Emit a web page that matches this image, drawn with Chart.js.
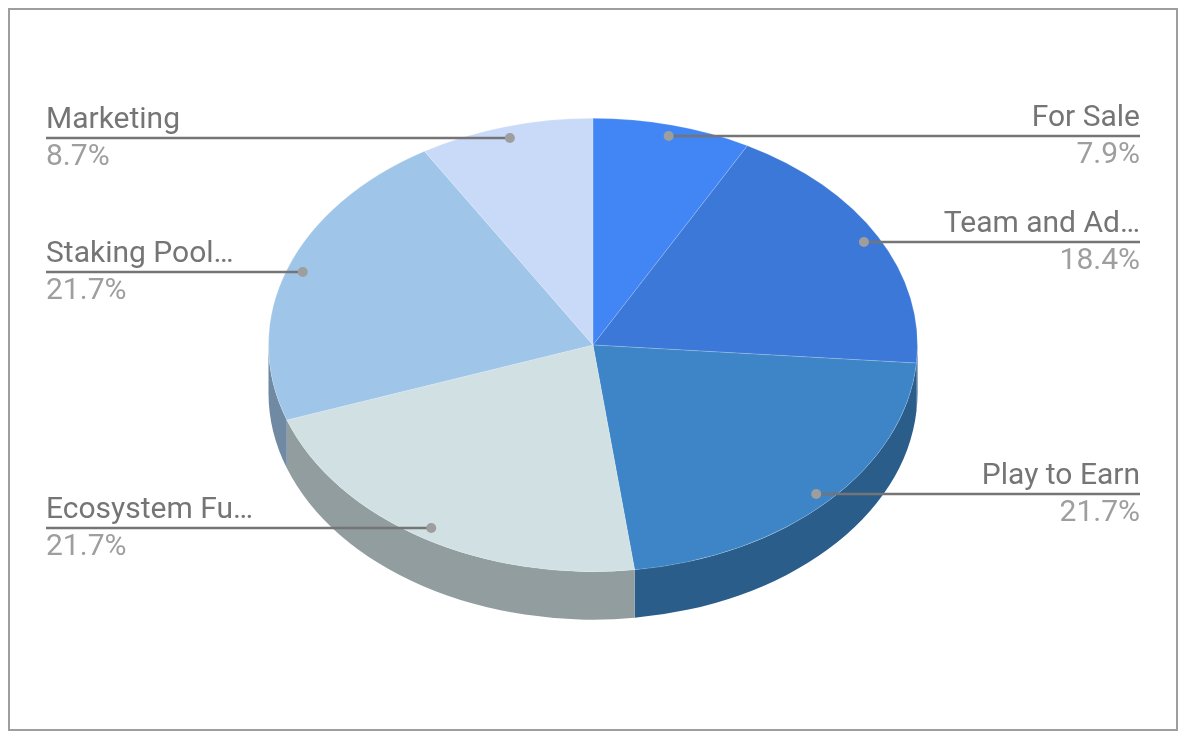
<!DOCTYPE html>
<html>
<head>
<meta charset="utf-8">
<title>Token allocation</title>
<script src="https://cdn.jsdelivr.net/npm/chart.js@4"></script>
<style>
  html, body { margin: 0; background: #fff; }
  canvas { display: block; }
</style>
</head>
<body>
<canvas id="chart" width="1188" height="742"></canvas>
<script>
const categories = ['For Sale', 'Team and Ad…', 'Play to Earn', 'Ecosystem Fu…', 'Staking Pool…', 'Marketing'];
const shares = [7.9, 18.4, 21.7, 21.7, 21.7, 8.7];
const topColors = ['#4285f4', '#3c78d8', '#3d85c6', '#d0e0e3', '#9fc5e8', '#c9daf8'];
const sideColors = ['#2e5dab', '#2a5497', '#2b5d8b', '#929d9f', '#6f8aa2', '#8d99ae'];

// the pie is drawn flat by Chart.js, these squash it into a tilted disc
const squash = 0.6985;
const depth = 48;
const dotAt = 0.95;
const leftX = 46;
const rightX = 1140;

const tiltPlugin = {
  id: 'tilt',
  beforeDraw(chart) {
    const ctx = chart.ctx;
    ctx.save();
    ctx.fillStyle = '#fff';
    ctx.fillRect(0, 0, chart.width, chart.height);
    ctx.strokeStyle = '#9e9e9e';
    ctx.lineWidth = 2;
    ctx.strokeRect(9, 9, 1168, 721);
    ctx.restore();
  },
  beforeDatasetsDraw(chart) {
    const ctx = chart.ctx;
    // walls first, only the front half of the rim shows
    chart.getDatasetMeta(0).data.forEach((arc, i) => {
      const p = arc.getProps(['x', 'y', 'startAngle', 'endAngle', 'outerRadius']);
      const a = Math.max(p.startAngle, 0);
      const b = Math.min(p.endAngle, Math.PI);
      if (b <= a) return;
      const ry = p.outerRadius * squash;
      ctx.beginPath();
      ctx.ellipse(p.x, p.y, p.outerRadius, ry, 0, a, b);
      ctx.ellipse(p.x, p.y + depth, p.outerRadius, ry, 0, b, a, true);
      ctx.closePath();
      ctx.fillStyle = sideColors[i];
      ctx.fill();
    });
    const c = chart.getDatasetMeta(0).data[0];
    ctx.save();
    ctx.translate(c.x, c.y);
    ctx.scale(1, squash);
    ctx.translate(-c.x, -c.y);
  },
  afterDatasetsDraw(chart) {
    const ctx = chart.ctx;
    ctx.restore();
    chart.getDatasetMeta(0).data.forEach((arc, i) => {
      const p = arc.getProps(['x', 'y', 'startAngle', 'endAngle', 'outerRadius']);
      const mid = (p.startAngle + p.endAngle) / 2;
      const dx = p.x + Math.cos(mid) * p.outerRadius * dotAt;
      const dy = Math.round(p.y + Math.sin(mid) * p.outerRadius * dotAt * squash);
      const onRight = Math.cos(mid) > 0;
      const endX = onRight ? rightX : leftX;

      ctx.strokeStyle = '#757575';
      ctx.lineWidth = 2.4;
      ctx.beginPath();
      ctx.moveTo(dx, dy);
      ctx.lineTo(endX, dy);
      ctx.stroke();

      ctx.fillStyle = '#9e9e9e';
      ctx.beginPath();
      ctx.arc(dx, dy, 5, 0, Math.PI * 2);
      ctx.fill();

      ctx.font = '30px Roboto';
      ctx.textAlign = onRight ? 'right' : 'left';
      ctx.textBaseline = 'alphabetic';
      ctx.fillStyle = '#757575';
      ctx.fillText(categories[i], endX, dy - 10.5);
      ctx.fillStyle = '#9e9e9e';
      ctx.fillText(shares[i].toFixed(1) + '%', endX, dy + 27);
    });
  }
};

new Chart(document.getElementById('chart').getContext('2d'), {
  type: 'pie',
  data: {
    labels: categories,
    datasets: [{
      data: shares,
      backgroundColor: topColors,
      borderColor: 'rgba(255,255,255,0.2)',
      borderWidth: 1,
      clip: false
    }]
  },
  options: {
    responsive: false,
    animation: false,
    events: [],
    layout: { padding: { left: 268, right: 270, top: 20, bottom: 72 } },
    plugins: {
      legend: { display: false },
      tooltip: { enabled: false }
    }
  },
  plugins: [tiltPlugin]
});
</script>
</body>
</html>
